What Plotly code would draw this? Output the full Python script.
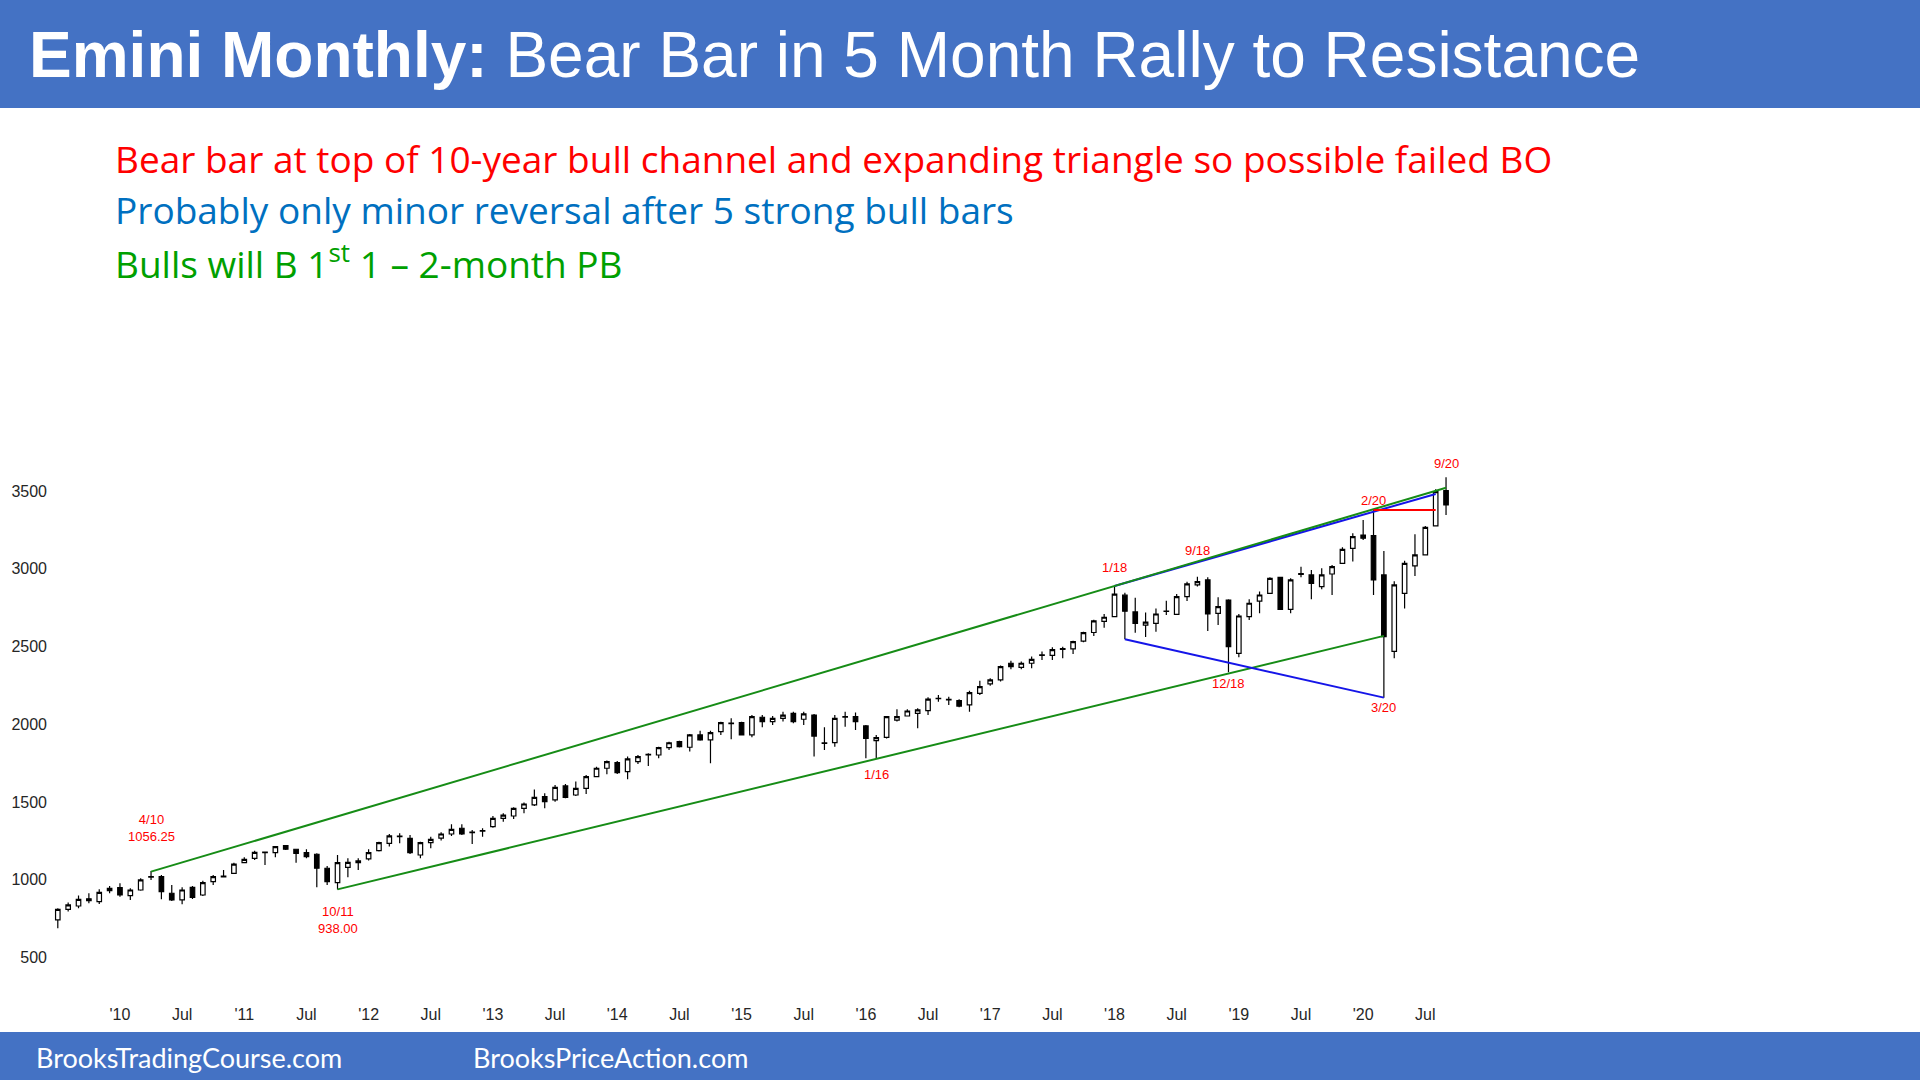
import plotly.graph_objects as go
import pandas as pd

# monthly Emini bars, Jul 2009 .. Sep 2020
months = pd.period_range("2009-07", "2020-09", freq="M")

opens = [742, 810, 831, 877, 859, 930,
         949, 898, 934, 1017, 1020, 913, 870, 951, 902, 988, 1024, 1041,
         1110, 1138, 1178, 1174, 1219, 1196, 1174, 1164, 1074, 981, 1080, 1110,
         1134, 1187, 1234, 1280, 1266, 1159, 1239, 1267, 1294, 1331, 1303, 1313,
         1341, 1395, 1410, 1459, 1481, 1534, 1513, 1603, 1545, 1588, 1663, 1717,
         1753, 1695, 1759, 1802, 1802, 1849, 1888, 1852, 1931, 1899, 1952, 2004,
         2010, 1931, 2045, 2017, 2038, 2070, 2032, 2059, 1880, 1882, 2046, 2049,
         1989, 1894, 1916, 2027, 2053, 2070, 2087, 2164, 2160, 2152, 2124, 2199,
         2259, 2285, 2392, 2366, 2392, 2443, 2443, 2482, 2485, 2535, 2590, 2662,
         2692, 2830, 2722, 2637, 2649, 2728, 2707, 2820, 2896, 2928, 2713, 2799,
         2456, 2692, 2792, 2842, 2945, 2739, 2964, 2960, 2885, 2966, 3035, 3131,
         3217, 3213, 2960, 2469, 2842, 3018, 3089, 3275, 3502]
highs = [816, 853, 898, 913, 939, 960,
         977, 945, 1009, 1056, 1031, 966, 951, 960, 994, 1031, 1063, 1110,
         1144, 1187, 1181, 1217, 1224, 1200, 1196, 1170, 1089, 1159, 1138, 1138,
         1196, 1245, 1294, 1299, 1288, 1245, 1277, 1305, 1357, 1357, 1320, 1331,
         1410, 1427, 1466, 1496, 1581, 1556, 1609, 1616, 1631, 1674, 1727, 1766,
         1764, 1792, 1802, 1813, 1856, 1888, 1894, 1937, 1958, 1958, 2016, 2038,
         2016, 2059, 2059, 2053, 2081, 2081, 2081, 2066, 1980, 2059, 2081, 2075,
         1995, 1931, 2053, 2096, 2096, 2102, 2173, 2188, 2177, 2160, 2216, 2280,
         2295, 2377, 2409, 2403, 2435, 2467, 2495, 2499, 2537, 2595, 2672, 2709,
         2889, 2846, 2813, 2718, 2745, 2794, 2838, 2917, 2949, 2945, 2816, 2803,
         2709, 2803, 2853, 2945, 2949, 2938, 3013, 2992, 3003, 3024, 3138, 3228,
         3313, 3378, 3114, 2920, 3052, 3221, 3275, 3511, 3588]
lows = [688, 795, 816, 849, 844, 913,
        891, 870, 930, 999, 874, 864, 842, 876, 896, 966, 1016, 1037,
        1106, 1127, 1095, 1144, 1192, 1110, 1138, 951, 966, 938, 1016, 1063,
        1123, 1181, 1213, 1234, 1166, 1138, 1202, 1252, 1282, 1288, 1230, 1277,
        1335, 1373, 1391, 1427, 1474, 1459, 1502, 1524, 1539, 1551, 1659, 1678,
        1680, 1646, 1744, 1731, 1781, 1835, 1850, 1824, 1894, 1749, 1931, 1903,
        1927, 1916, 1980, 1995, 2017, 2006, 1995, 1792, 1835, 1856, 1984, 1963,
        1781, 1781, 1909, 2017, 2049, 1974, 2060, 2145, 2124, 2109, 2081, 2188,
        2248, 2274, 2353, 2353, 2360, 2413, 2413, 2424, 2452, 2527, 2568, 2620,
        2690, 2546, 2589, 2561, 2595, 2703, 2703, 2793, 2885, 2600, 2638, 2334,
        2430, 2670, 2713, 2838, 2735, 2713, 2945, 2803, 2868, 2831, 3030, 3046,
        3185, 2831, 2171, 2424, 2745, 2953, 3089, 3275, 3346]
closes = [810, 838, 874, 866, 919, 945,
          902, 934, 999, 1021, 924, 870, 934, 887, 981, 1020, 1018, 1101,
          1131, 1176, 1174, 1213, 1196, 1170, 1149, 1074, 988, 1110, 1112, 1121,
          1174, 1239, 1282, 1277, 1174, 1239, 1260, 1294, 1324, 1294, 1307, 1316,
          1395, 1416, 1459, 1487, 1530, 1502, 1594, 1530, 1588, 1663, 1717, 1759,
          1689, 1777, 1792, 1807, 1849, 1881, 1856, 1931, 1899, 1946, 2010, 2008,
          1931, 2049, 2017, 2038, 2059, 2017, 2066, 1924, 1876, 2038, 2049, 2017,
          1909, 1914, 2049, 2049, 2085, 2092, 2162, 2166, 2156, 2117, 2203, 2242,
          2285, 2370, 2370, 2392, 2417, 2446, 2480, 2486, 2531, 2589, 2664, 2688,
          2837, 2727, 2649, 2656, 2709, 2725, 2820, 2902, 2917, 2709, 2756, 2499,
          2696, 2778, 2831, 2938, 2739, 2928, 2968, 2906, 2960, 3013, 3125, 3206,
          3196, 2928, 2563, 2896, 3035, 3089, 3266, 3496, 3410]

# month number, 0 = Jan 2010
x = [(p.year - 2010) * 12 + p.month - 1 for p in months]

tick_vals = list(range(0, 127, 6))
tick_text = ["'%02d" % (10 + t // 12) if t % 12 == 0 else "Jul" for t in tick_vals]
price_ticks = [500, 1000, 1500, 2000, 2500, 3000, 3500]

# trend lines drawn on the chart: (months, prices)
upper_channel = ([3, 128], [1052, 3521])
lower_channel = ([21, 122], [938, 2568])
triangle_top = ([96, 127], [2889, 3481])
triangle_bottom = ([97, 122], [2546, 2171])
feb_high = ([121, 127], [3378, 3378])

# red swing labels: text, month, price
labels = [("4/10<br>1056.25", 3, 1333), ("10/11<br>938.00", 21, 741),
          ("1/16", 73, 1674), ("1/18", 96, 3005), ("9/18", 104, 3114),
          ("12/18", 107, 2259), ("2/20", 121, 3436), ("3/20", 122, 2105),
          ("9/20", 128, 3674)]

# plot area in page pixels
PL, PR, PT, PB = 52, 1560, 300, 1000


def px_x(px):
    return (px - PL) / (PR - PL)


def px_y(py):
    return (PB - py) / (PB - PT)


fig = go.Figure()

fig.add_trace(go.Candlestick(
    x=x, open=opens, high=highs, low=lows, close=closes,
    increasing=dict(line=dict(color="black", width=1.2), fillcolor="white"),
    decreasing=dict(line=dict(color="black", width=1.2), fillcolor="black"),
    whiskerwidth=0, showlegend=False, hoverinfo="skip"))

for (lx, ly), col in [(lower_channel, "#168C16"), (triangle_bottom, "#1515E8"),
                      (triangle_top, "#1515E8"), (upper_channel, "#168C16"),
                      (feb_high, "#FF0000")]:
    fig.add_trace(go.Scatter(x=lx, y=ly, mode="lines", line=dict(color=col, width=2),
                             showlegend=False, hoverinfo="skip"))

for txt, lx, ly in labels:
    fig.add_annotation(x=lx, y=ly, text=txt, showarrow=False,
                       font=dict(family="Liberation Sans, Arial", size=13, color="#FF0000"))

# header and footer bars
fig.add_shape(type="rect", xref="paper", yref="paper", x0=px_x(0), x1=px_x(1920),
              y0=px_y(108), y1=px_y(0), fillcolor="#4472C4", line=dict(width=0), layer="below")
fig.add_shape(type="rect", xref="paper", yref="paper", x0=px_x(0), x1=px_x(1920),
              y0=px_y(1080), y1=px_y(1032), fillcolor="#4472C4", line=dict(width=0), layer="below")

fig.add_annotation(xref="paper", yref="paper", x=px_x(27), y=px_y(55), xanchor="left", yanchor="middle",
                   text="<b>Emini Monthly:</b> Bear Bar in 5 Month Rally to Resistance", showarrow=False,
                   font=dict(family="Liberation Sans, Arial", size=64, color="white"))

notes = [("Bear bar at top of 10-year bull channel and expanding triangle so possible failed BO", "#FF0000", 159),
         ("Probably only minor reversal after 5 strong bull bars", "#0070C0", 209),
         ("Bulls will B 1<sup>st</sup> 1 \u2013 2-month PB", "#00A000", 261)]
for txt, col, py in notes:
    fig.add_annotation(xref="paper", yref="paper", x=px_x(113), y=px_y(py), xanchor="left", yanchor="middle",
                       text=txt, showarrow=False, font=dict(family="Open Sans", size=37, color=col))

for txt, px in [("BrooksTradingCourse.com", 34), ("BrooksPriceAction.com", 471)]:
    fig.add_annotation(xref="paper", yref="paper", x=px_x(px), y=px_y(1057), xanchor="left", yanchor="middle",
                       text=txt, showarrow=False, font=dict(family="Lato", size=27, color="white"))

fig.update_layout(
    width=1920, height=1080,
    margin=dict(l=PL, r=1920 - PR, t=PT, b=1080 - PB),
    paper_bgcolor="white", plot_bgcolor="white",
    boxgap=0.38,
    xaxis=dict(range=[-6.56, 139.0], rangeslider=dict(visible=False), showgrid=False, zeroline=False,
               showline=False, tickvals=tick_vals, ticktext=tick_text, ticks="", ticklabelstandoff=3,
               tickfont=dict(family="Liberation Sans, Arial", size=16, color="#262626")),
    yaxis=dict(range=[226.7, 4728], showgrid=False, zeroline=False, showline=False,
               tickvals=price_ticks, ticks="", ticklabelstandoff=4,
               tickfont=dict(family="Liberation Sans, Arial", size=16, color="#262626")),
)

# drop the browser's default page margin so the figure sits at 0,0
fig.write_html("out.html", config={"displayModeBar": False},
               post_script="document.body.style.margin='0px';")
